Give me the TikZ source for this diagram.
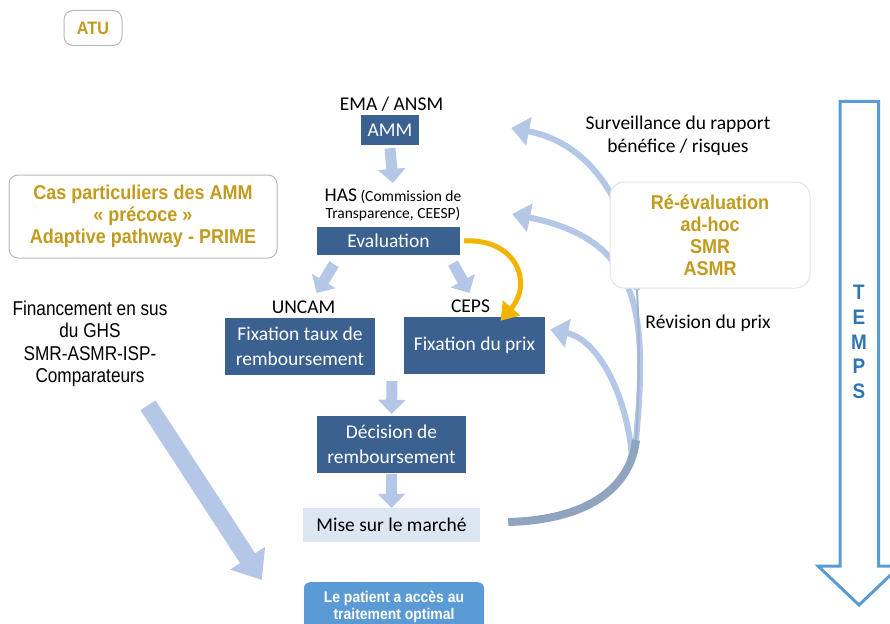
\documentclass[tikz,border=0pt]{standalone}
\usepackage{fontspec}
\setmainfont{Carlito}
\newfontfamily\narrowsans[FakeStretch=0.9]{Liberation Sans}
\newfontfamily\condsans[FakeStretch=0.86]{Liberation Sans}
\usetikzlibrary{arrows.meta,positioning,calc}

\definecolor{boxblue}{HTML}{3B6190}
\definecolor{flowblue}{HTML}{B4C7E7}
\definecolor{baseblue}{HTML}{8FA4BE}
\definecolor{goldtext}{HTML}{C29B1E}
\definecolor{marketfill}{HTML}{DCE6F2}
\definecolor{patientblue}{HTML}{5B9BD5}
\definecolor{timeblue}{HTML}{5B9BD5}
\definecolor{timetext}{HTML}{2E75B6}
\definecolor{loopyellow}{HTML}{F2B400}

\tikzset{
  bluebox/.style={fill=boxblue, text=white, font=\fontsize{19.5}{25}\selectfont, align=center, inner sep=0pt},
  goldbox/.style={draw=gray!55, line width=1pt, rounded corners=9pt, fill=white, text=goldtext,
    font=\narrowsans\bfseries\fontsize{20}{22}\selectfont, align=center, inner sep=0pt},
  plain/.style={font=\fontsize{19.5}{23}\selectfont, align=center, inner sep=0pt},
  flowarrow/.style={draw=flowblue, line width=11pt, -{Triangle[width=27pt,length=14pt]}},
  backarrow/.style={draw=flowblue, line width=6pt, -{Triangle[width=28pt,length=18pt]}},
}

\begin{document}
\begin{tikzpicture}[x=1pt,y=-1pt]
  \useasboundingbox (0,0) rectangle (890,623);

  % left column
  \node[goldbox, minimum width=58pt, minimum height=35pt, font=\narrowsans\bfseries\fontsize{18}{20}\selectfont] (atu) at (93,28) {ATU};
  \node[goldbox, minimum width=268pt, minimum height=83pt] (special) at (143,216.5) {Cas particuliers des AMM\\« précoce »\\Adaptive pathway - PRIME};
  \node[plain, font=\condsans\fontsize{20}{22.5}\selectfont] (financement) at (90,344) {Financement en sus\\du GHS\\SMR-ASMR-ISP-\\Comparateurs};

  % main chain
  \node[plain] (ema) at (391.5,104) {EMA / ANSM};
  \node[bluebox, minimum width=58pt, minimum height=30pt] (amm) at (390,130) {AMM};
  \node[plain, font=\fontsize{15.5}{16.5}\selectfont] (has) at (393,205) {{\fontsize{19.5}{16.5}\selectfont HAS} (Commission de\\Transparence, CEESP)};
  \node[bluebox, minimum width=143pt, minimum height=28pt] (eval) at (388.5,241) {Evaluation};
  \node[plain] (uncam) at (303.5,307) {UNCAM};
  \node[plain] (ceps) at (470.5,306) {CEPS};
  \node[bluebox, minimum width=150pt, minimum height=57pt] (taux) at (300,346.5) {Fixation taux de\\remboursement};
  \node[bluebox, minimum width=141pt, minimum height=57pt] (prix) at (474.5,345.5) {Fixation du prix};
  \node[bluebox, minimum width=149pt, minimum height=57pt] (decision) at (391.5,444.5) {Décision de\\remboursement};
  \node[bluebox, fill=marketfill, text=black, minimum width=177pt, minimum height=34pt] (market) at (391.5,525) {Mise sur le marché};
  \node[rounded corners=6pt, fill=patientblue, text=white, font=\narrowsans\bfseries\fontsize{15.5}{17}\selectfont,
    align=center, inner sep=0pt, minimum width=180pt, minimum height=50pt, anchor=north] (patient) at (394,582) {Le patient a accès au\\traitement optimal};

  \coordinate (rowjoin) at (392,381);
  \draw[flowarrow] ([yshift=-3pt]amm.south) -- ([yshift=6pt]has.north);
  \draw[flowarrow] ([xshift=-54.5pt,yshift=-9pt]eval.south) -- ([xshift=13pt,yshift=7.5pt]uncam.north);
  \draw[flowarrow] ([xshift=64.5pt,yshift=-8pt]eval.south) -- ([xshift=-1pt,yshift=6.5pt]ceps.north);
  \draw[flowarrow] (rowjoin) -- ([yshift=2pt]decision.north);
  \draw[flowarrow] ([yshift=-1pt]decision.south) -- (market.north);
  \draw[draw=flowblue, line width=18pt, -{Triangle[width=40pt,length=26pt]}]
    ([xshift=58pt,yshift=-18pt]financement.south) -- ([xshift=-42pt,yshift=2pt]patient.north west);

  % evaluation -> prix
  \draw[draw=loopyellow, line width=5pt, -{Triangle[width=22pt,length=17pt]}]
    ([xshift=4pt]eval.east) .. controls (515,238) and (534,282) .. ([xshift=26pt,yshift=-4pt]prix.north);

  % feedback arrows from the market
  \coordinate (loopbase) at (636,440);
  \draw[backarrow] (loopbase) .. controls (648,310) and (640,240) .. ([xshift=52pt,yshift=27pt]eval.east);
  \draw[backarrow] (632,458) .. controls (628,400) and (600,340) .. ([xshift=5pt,yshift=16pt]prix.east);
  \draw[draw=flowblue!90!black, line width=2pt] (loopbase) .. controls (640,380) and (639,330) .. (637,290);
  \draw[backarrow] (637,290) .. controls (634,220) and (600,145) .. ([xshift=92pt,yshift=2pt]amm.east);
  \draw[draw=baseblue, line width=8pt] ([xshift=28pt,yshift=3pt]market.east) .. controls (585,520) and (630,490) .. (loopbase);

  % right column
  \node[plain] (surveillance) at (678,136) {Surveillance du rapport\\bénéfice / risques};
  \node[goldbox, draw=gray!22, rounded corners=14pt, minimum width=200pt, minimum height=106pt] (reeval) at (710,235) {Ré-évaluation\\ad-hoc\\SMR\\ASMR};
  \node[plain] (revision) at (708,323) {Révision du prix};

  % time axis
  \draw[timeblue, line width=3pt, line join=miter]
    (840,101.5) -- (878.5,101.5) -- (878.5,566) -- (900,566) -- (859,605) -- (818,566) -- (840,566) -- cycle;
  \node[text=timetext, font=\narrowsans\bfseries\fontsize{21}{24.75}\selectfont, align=center, inner sep=0pt] (temps) at (859,342) {T\\E\\M\\P\\S};
\end{tikzpicture}
\end{document}
